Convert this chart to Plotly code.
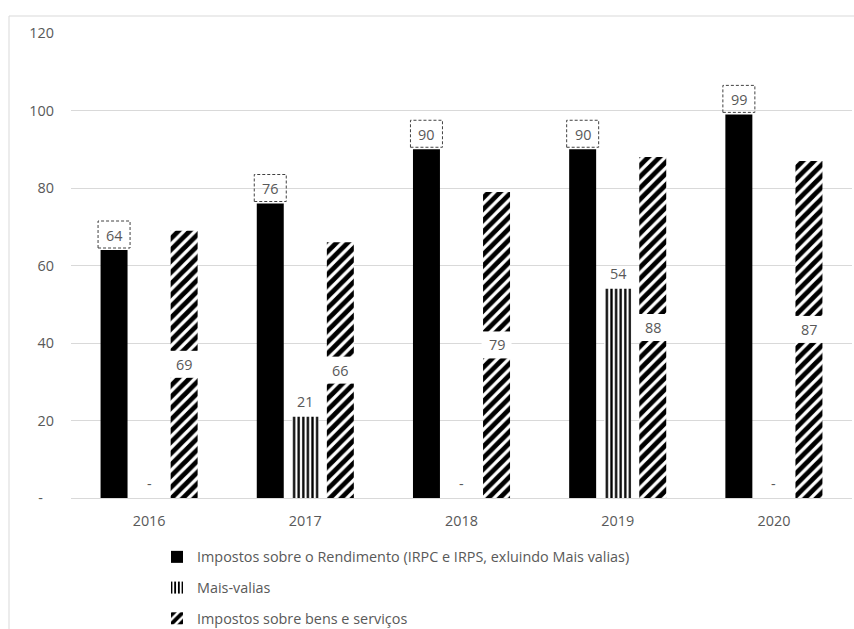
import plotly.graph_objects as go

# Data
anos = ["2016", "2017", "2018", "2019", "2020"]
rendimento = [64, 76, 90, 90, 99]
mais_valias = [0, 21, 0, 54, 0]
bens_servicos = [69, 66, 79, 88, 87]
nomes = [
    "Impostos sobre o Rendimento (IRPC e IRPS, exluindo Mais valias)",
    "Mais-valias",
    "Impostos sobre bens e serviços",
]
y_ticks = [0, 20, 40, 60, 80, 100, 120]
y_tick_text = ["-\u00a0\u00a0\u00a0", "20", "40", "60", "80", "100", "120"]

# Layout geometry
W, H = 854, 629
ML, MR, MT, MB = 71, 2, 33, 131
PW, PH = W - ML - MR, H - MT - MB
BARGAP, GROUPGAP = 0.327, 0.23
slot = (1 - BARGAP) / 3
FONT = "Open Sans"
FS = 14.4
GREY = "#595959"
GRID = "#d9d9d9"


def px_x(p):
    return (p - ML) / PW


def px_y(p):
    return (H - MB - p) / PH


xs = list(range(len(anos)))

fig = go.Figure()
fig.add_trace(go.Bar(
    x=xs, y=rendimento, name=nomes[0], legendgroup="a",
    marker=dict(color="black", line=dict(width=0)),
))
fig.add_trace(go.Bar(
    x=xs, y=mais_valias, name=nomes[1], legendgroup="b",
    marker=dict(color="white", line=dict(width=0),
                pattern=dict(shape="|", fgcolor="black", bgcolor="white",
                             fgopacity=1, size=4.6, solidity=0.5)),
))
fig.add_trace(go.Bar(
    x=xs, y=bens_servicos, name=nomes[2], legendgroup="c",
    marker=dict(color="white", line=dict(width=0),
                pattern=dict(shape="/", fgcolor="black", bgcolor="white",
                             fgopacity=1, size=8, solidity=0.6)),
))

shapes = []
annotations = []
label_font = dict(family=FONT, size=FS, color=GREY)

for i, v in enumerate(rendimento):
    xc = i - slot
    shapes.append(dict(
        type="rect", xref="x", yref="y", layer="above",
        xsizemode="pixel", xanchor=xc, x0=-16, x1=16,
        ysizemode="pixel", yanchor=v, y0=2, y1=29,
        line=dict(color="#404040", width=1, dash="3px,2px"),
        fillcolor="rgba(0,0,0,0)",
    ))
    annotations.append(dict(
        x=xc, y=v, xref="x", yref="y", text=str(v), showarrow=False,
        yanchor="middle", yshift=15, font=label_font,
    ))

for i, v in enumerate(mais_valias):
    annotations.append(dict(
        x=i, y=v, xref="x", yref="y", text=str(v) if v else "-",
        showarrow=False, yanchor="middle", yshift=15, font=label_font,
    ))

for i, v in enumerate(bens_servicos):
    xc = i + slot
    shapes.append(dict(
        type="rect", xref="x", yref="y", layer="above",
        xsizemode="pixel", xanchor=xc, x0=-15, x1=15,
        ysizemode="pixel", yanchor=v / 2, y0=-13.5, y1=13.5,
        line=dict(width=0), fillcolor="white",
    ))
    annotations.append(dict(
        x=xc, y=v / 2, xref="x", yref="y", text=str(v), showarrow=False,
        yanchor="middle", font=label_font,
    ))

# Chart frame
shapes.append(dict(
    type="rect", xref="paper", yref="paper", layer="below",
    x0=px_x(9), x1=px_x(858), y0=px_y(16), y1=px_y(640),
    line=dict(color=GRID, width=1), fillcolor="rgba(0,0,0,0)",
))

fig.update_layout(
    width=W, height=H,
    margin=dict(l=ML, r=MR, t=MT, b=MB, autoexpand=False),
    paper_bgcolor="white", plot_bgcolor="white",
    barmode="group", bargap=BARGAP, bargroupgap=GROUPGAP,
    font=dict(family=FONT, size=FS, color=GREY),
    xaxis=dict(
        range=[-0.5, len(anos) - 0.5], tickvals=xs, ticktext=anos,
        showgrid=False, zeroline=False, showline=True, linecolor=GRID,
        ticks="", ticklabelstandoff=10, automargin=False,
        tickfont=dict(family=FONT, size=FS, color=GREY),
    ),
    yaxis=dict(
        range=[0, 120], tickvals=y_ticks, ticktext=y_tick_text,
        showgrid=True, gridcolor=GRID, zeroline=False, showline=False,
        ticks="", ticklabelstandoff=16, automargin=False,
        tickfont=dict(family=FONT, size=FS, color=GREY),
    ),
    legend=dict(
        orientation="v", x=px_x(157), xanchor="left",
        y=px_y(541), yanchor="top", tracegroupgap=9,
        font=dict(family=FONT, size=FS, color=GREY),
        bgcolor="rgba(0,0,0,0)",
    ),
    shapes=shapes,
    annotations=annotations,
)

fig.write_html("out.html")
